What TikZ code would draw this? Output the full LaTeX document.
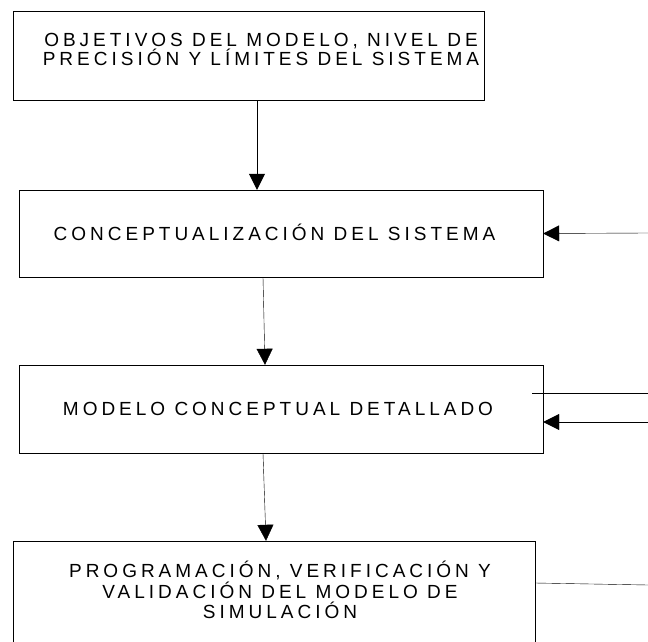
\documentclass[tikz,border=0pt]{standalone}
\usepackage{fontspec}
\setmainfont{Liberation Sans}[LetterSpace=21]
\usetikzlibrary{arrows.meta,positioning}
\tikzset{
    x=1pt,y=1pt,line width=1.2pt,
    box/.style ={rectangle, draw},
    txt/.style ={align=center, font=\fontsize{19}{19.3}\selectfont},
    arr/.style = {-{Triangle[length=16pt,width=16pt]}}
}

\begin{document}
\begin{tikzpicture}
        \useasboundingbox (0,0) rectangle (648,-642);
        \node[box, minimum width=471, minimum height=89] (obj) at (248.5,-55.5) {};
        \node[box, minimum width=524, minimum height=87] (con) at (281,-233.5) {};
        \node[box, minimum width=524, minimum height=88] (det) at (281,-409) {};
        \node[box, minimum width=522, minimum height=120] (prog) at (274,-601) {};
        \node[txt] (objtxt) at (261,-49.5) {OBJETIVOS DEL MODELO, NIVEL DE\\PRECISIÓN Y LÍMITES DEL SISTEMA};
        \node[txt] (contxt) at (274.5,-232) {CONCEPTUALIZACIÓN DEL SISTEMA};
        \node[txt] (dettxt) at (278,-409) {MODELO CONCEPTUAL DETALLADO};
        \node[txt, font=\fontsize{19}{20.5}\selectfont] (progtxt) at (280,-590) {PROGRAMACIÓN, VERIFICACIÓN Y\\VALIDACIÓN DEL MODELO DE\\SIMULACIÓN};
        \coordinate (r1) at (648,-233);
        \coordinate (r2) at (648,-393);
        \coordinate (r3) at (648,-422);
        \coordinate (r4) at (648,-585);
        \draw[arr] ([xshift=8.5]obj.south) -- ([xshift=-24]con.north);
        \draw[arr] ([xshift=-18]con.south) -- ([xshift=-16]det.north);
        \draw[arr] ([xshift=-18]det.south) -- ([xshift=-8]prog.north);
        \draw[arr] (r1) -- (con.east);
        \draw ([xshift=-11,yshift=16]det.east) -- (r2);
        \draw[arr] (r3) -- ([yshift=-13]det.east);
        \draw ([yshift=18]prog.east) -- (r4);
\end{tikzpicture}
\end{document}
